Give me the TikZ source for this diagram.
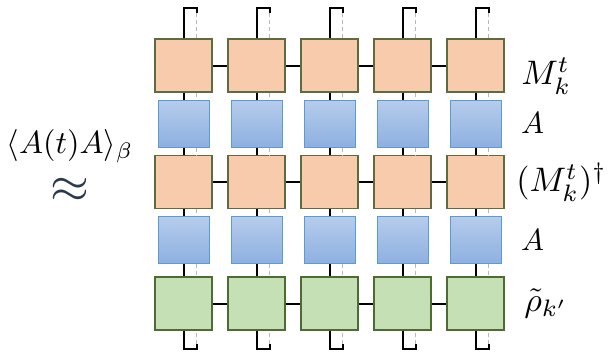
\documentclass[tikz,border=0pt]{standalone}
\usepackage{amsmath}
\usetikzlibrary{calc,positioning}
\definecolor{Peach}{HTML}{F8CBAD}
\definecolor{PeachEdge}{HTML}{5E6B3E}
\definecolor{Sage}{HTML}{C5E0B4}
\definecolor{SageEdge}{HTML}{4F6B34}
\definecolor{SkyTop}{HTML}{B6CCEC}
\definecolor{SkyBot}{HTML}{8EB0E0}
\definecolor{SkyEdge}{HTML}{5B9BD5}
\definecolor{Ink}{HTML}{2B3A4A}
\definecolor{Ghost}{HTML}{B8B8B8}
\tikzset{mps/.style={draw=PeachEdge,fill=Peach,line width=1.2pt,minimum width=57pt,minimum height=53pt,inner sep=0pt},rho/.style={mps,draw=SageEdge,fill=Sage},op/.style={draw=SkyEdge,top color=SkyTop,bottom color=SkyBot,line width=1pt,minimum width=51pt,minimum height=47pt,inner sep=0pt},leg/.style={line width=2pt,black},ghost/.style={line width=1.3pt,Ghost,dash pattern=on 4pt off 3pt},lbl/.style={scale=3.4,inner sep=0pt}}

\begin{document}
\begin{tikzpicture}[x=1pt,y=-1pt]
      \useasboundingbox (0,0) rectangle (615,351);
      % tensor grid
      \foreach \c in {1,...,5}{
        \pgfmathsetmacro\x{183.5+73*(\c-1)}
        \node[mps](o1-\c) at (\x,65.5){};
        \node[op](a1-\c) at (\x,123.5){};
        \node[mps](o2-\c) at (\x,182){};
        \node[op](a2-\c) at (\x,240){};
        \node[rho](g-\c) at (\x,303.5){};
        \coordinate (top-\c) at (\x,8);
        \coordinate (bot-\c) at (\x,349);
      }
      % vertical legs
      \foreach \c in {1,...,5}{
        \draw[leg](o1-\c.north)|-($(top-\c)+(13,0)$)--++(0,5);
        \draw[ghost]($(top-\c)+(13,5)$)--([xshift=13pt]o1-\c.north);
        \draw[leg](g-\c.south)|-($(bot-\c)+(13,0)$)--++(0,-5);
        \draw[ghost]($(bot-\c)+(13,-5)$)--([xshift=13pt]g-\c.south);
        \draw[leg](o1-\c.south)--(a1-\c.north);\draw[leg](a1-\c.south)--(o2-\c.north);
        \draw[leg](o2-\c.south)--(a2-\c.north);\draw[leg](a2-\c.south)--(g-\c.north);
        \draw[ghost]([xshift=13pt]o1-\c.south)--([xshift=13pt]a1-\c.north);
        \draw[ghost]([xshift=13pt]a1-\c.south)--([xshift=13pt]o2-\c.north);
        \draw[ghost]([xshift=13pt]o2-\c.south)--([xshift=13pt]a2-\c.north);
        \draw[ghost]([xshift=13pt]a2-\c.south)--([xshift=13pt]g-\c.north);
      }
      % bonds
      \foreach \c [evaluate=\c as \n using int(\c+1)] in {1,...,4}{
        \draw[leg](o1-\c.east)--(o1-\n.west);
        \draw[leg](o2-\c.east)--(o2-\n.west);
        \draw[leg](g-\c.east)--(g-\n.west);
      }
      % labels
      \node[lbl,right=16pt of o1-5,yshift=-3pt](lm){$M_k^t$};
      \node[lbl,scale=.9,right=19pt of a1-5](la1){$A$};
      \node[lbl,right=11pt of o2-5](lmd){$(M_k^t)^\dagger$};
      \node[lbl,scale=.9,right=19pt of a2-5](la2){$A$};
      \node[lbl,right=19pt of g-5](lr){$\tilde\rho_{k'}$};
      \node[scale=3.2,inner sep=0pt](corr) at (70,146){$\langle A(t)A\rangle_\beta$};
      \node[Ink,scale=5,inner sep=0pt](apx) at (70,190){$\approx$};
    \end{tikzpicture}
\end{document}
